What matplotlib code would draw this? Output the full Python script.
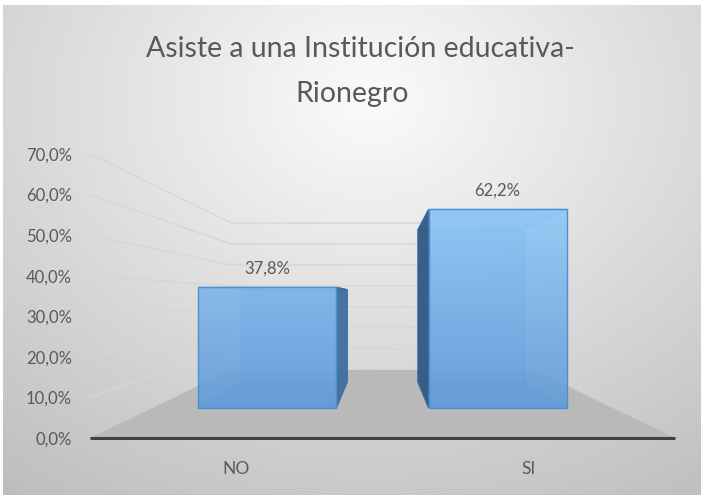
import numpy as np
import matplotlib
matplotlib.use("Agg")
import matplotlib.pyplot as plt
from matplotlib.patches import Polygon

# ---------------- data ----------------
categories = ["NO", "SI"]
values = [37.8, 62.2]
value_labels = ["37,8%", "62,2%"]
y_ticks = [0, 10, 20, 30, 40, 50, 60, 70]
y_tick_labels = ["0,0%", "10,0%", "20,0%", "30,0%", "40,0%", "50,0%", "60,0%", "70,0%"]
title_lines = ["Asiste a una Institución educativa-", "Rionegro"]

# ---------------- style ----------------
W, H = 701, 495
FONT = ["Lato", "DejaVu Sans"]
TXT = "#595959"
plt.rcParams["font.family"] = FONT

fig = plt.figure(figsize=(W / 100, H / 100), dpi=100)

# background (radial grey gradient, white margin top/left)
bg = fig.add_axes([0, 0, 1, 1])
bg.set_axis_off()
yy, xx = np.mgrid[0:H, 0:W]
r = np.sqrt(((xx - 370) / 540.0) ** 2 + ((yy - 100) / 420.0) ** 2)
shade = 0.985 - 0.21 * np.clip(r, 0, 1.3)
img = np.dstack([shade] * 3)
img[:5, :, :] = 1.0
img[:, :3, :] = 1.0
bg.imshow(img, extent=[0, W, H, 0], interpolation="bilinear", aspect="auto")
bg.set_xlim(0, W)
bg.set_ylim(H, 0)

# main axes: front plane, x in category units, y in percent
x_left, x_right, y_zero, y_top = 90, 675, 438, 154
ax = fig.add_axes([x_left / W, (H - y_zero) / H, (x_right - x_left) / W, (y_zero - y_top) / H])
ax.patch.set_alpha(0)
for s in ax.spines.values():
    s.set_visible(False)
XMAX = len(categories)
YMAX = y_ticks[-1]

# perspective projection (vanishing point and depth factor)
VX, VY, K = XMAX / 2.0, 34.75, 0.934


def proj(x, y, d):
    s = 1.0 / (1.0 + K * d)
    return (VX + (x - VX) * s, VY + (y - VY) * s)


# side-wall + back-wall gridlines
for v in y_ticks[1:]:
    pts = np.array([proj(0, v, 0), proj(0, v, 1), proj(XMAX, v, 1)])
    ax.plot(pts[:, 0], pts[:, 1], color="#d6d6d6", lw=1.0, zorder=1, clip_on=False)

# floor
floor = [proj(0, 0, 0), proj(XMAX, 0, 0), proj(XMAX, 0, 1), proj(0, 0, 1)]
ax.add_patch(Polygon(floor, closed=True, facecolor="#b9b9b9", edgecolor="none", zorder=2, clip_on=False))

# front axis line
ax.plot([0, XMAX], [0, 0], color="#404040", lw=2.2, zorder=3, clip_on=False, solid_capstyle="butt")

# bars
BW, D0, D1 = 0.6, 0.29, 0.705
c_low = np.array([0.38, 0.61, 0.85])
c_high = np.array([0.58, 0.80, 0.98])
edge_c = "#4f8fd0"
for i, v in enumerate(values):
    xc = i + 0.5
    x0, x1 = xc - BW / 2, xc + BW / 2
    P = proj
    back = [P(x0, 0, D1), P(x1, 0, D1), P(x1, v, D1), P(x0, v, D1)]
    bottom = [P(x0, 0, D0), P(x1, 0, D0), P(x1, 0, D1), P(x0, 0, D1)]
    top = [P(x0, v, D0), P(x1, v, D0), P(x1, v, D1), P(x0, v, D1)]
    ax.add_patch(Polygon(back, closed=True, facecolor=(0.45, 0.68, 0.9), alpha=0.55,
                         edgecolor=edge_c, lw=0.8, zorder=4, clip_on=False))
    ax.add_patch(Polygon(bottom, closed=True, facecolor=(0.40, 0.62, 0.86), alpha=0.5,
                         edgecolor=edge_c, lw=0.8, zorder=4.1, clip_on=False))
    ax.add_patch(Polygon(top, closed=True, facecolor=(0.55, 0.78, 0.97), alpha=0.6,
                         edgecolor=edge_c, lw=0.8, zorder=4.1, clip_on=False))
    xs = x1 if x1 < VX else x0
    side_col = (0.24, 0.43, 0.62) if x1 < VX else (0.18, 0.34, 0.50)
    side = [P(xs, 0, D0), P(xs, 0, D1), P(xs, v, D1), P(xs, v, D0)]
    ax.add_patch(Polygon(side, closed=True, facecolor=side_col, alpha=0.92,
                         edgecolor="#3a6c9e", lw=0.8, zorder=4.2, clip_on=False))
    # front face with vertical gradient
    fx0, fy0 = P(x0, 0, D0)
    fx1, fy1 = P(x1, v, D0)
    n = 64
    t = np.linspace(v, 0, n) / YMAX
    grad = c_low[None, :] + (c_high - c_low)[None, :] * t[:, None]
    grad = np.repeat(grad[:, None, :], 4, axis=1)
    ax.imshow(grad, extent=[fx0, fx1, fy0, fy1], aspect="auto", alpha=0.88,
              zorder=4.5, interpolation="bilinear", clip_on=False)
    ax.add_patch(Polygon([(fx0, fy0), (fx1, fy0), (fx1, fy1), (fx0, fy1)], closed=True,
                         facecolor="none", edgecolor=edge_c, lw=1.0, zorder=4.6, clip_on=False))
    # value label
    ax.annotate(value_labels[i], xy=P(xc, v, D0), xytext=(0, 14), textcoords="offset pixels",
                ha="center", va="baseline", fontsize=12, color=TXT, zorder=6)
    # category label
    ax.annotate(categories[i], xy=(xc, 0), xytext=(0, -36), textcoords="offset pixels",
                ha="center", va="baseline", fontsize=12.5, color=TXT, zorder=6)

ax.set_xlim(0, XMAX)
ax.set_ylim(0, YMAX)
ax.set_xticks([])
ax.set_yticks(y_ticks, y_tick_labels)
ax.tick_params(axis="y", length=0, pad=13, labelsize=12, labelcolor=TXT)

# title
fig.text(360 / W, 1 - 57 / H, title_lines[0], ha="center", va="baseline",
         fontsize=20.5, color=TXT)
fig.text(352 / W, 1 - 102 / H, title_lines[1], ha="center", va="baseline",
         fontsize=20.5, color=TXT)

fig.savefig("out.png", dpi=100)
